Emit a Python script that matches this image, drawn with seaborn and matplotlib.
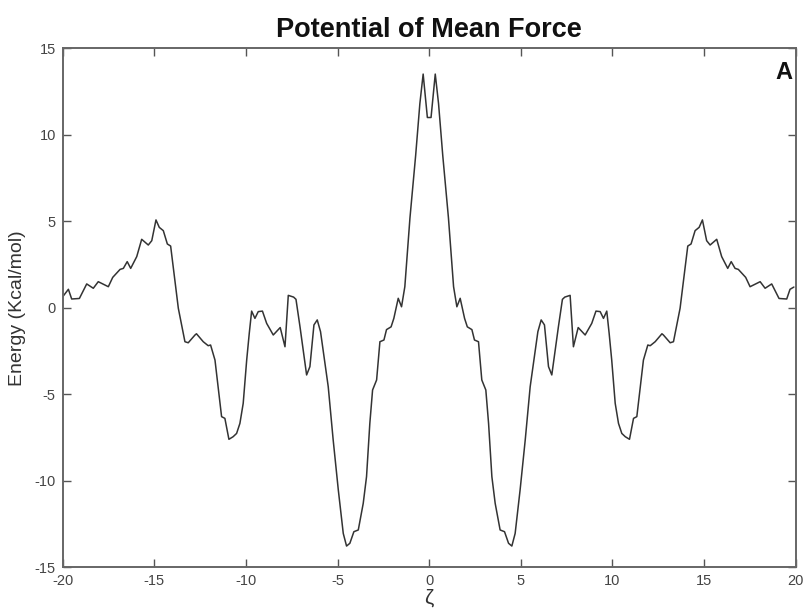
import numpy as np
import pandas as pd
import matplotlib
matplotlib.use("Agg")
import matplotlib.pyplot as plt
import seaborn as sns

# left half of the PMF profile (the curve is symmetric about zeta = 0)
zeta_left = [-20.0, -19.69, -19.51, -19.09, -18.69, -18.33, -18.06, -17.51, -17.27,
             -16.87, -16.69, -16.48, -16.29, -15.96, -15.69, -15.33, -15.14, -14.91,
             -14.73, -14.51, -14.29, -14.11, -13.97, -13.69, -13.33, -13.15, -12.78,
             -12.70, -12.33, -12.06, -11.93, -11.69, -11.33, -11.15, -10.93, -10.70,
             -10.51, -10.33, -10.15, -9.96, -9.82, -9.69, -9.51, -9.33, -9.10, -8.87,
             -8.51, -8.13, -7.87, -7.69, -7.40, -7.27, -7.05, -6.69, -6.51, -6.29,
             -6.11, -5.93, -5.51, -5.24, -4.96, -4.69, -4.51, -4.33, -4.11, -3.87,
             -3.60, -3.42, -3.24, -3.09, -2.87, -2.69, -2.47, -2.33, -2.08, -1.93,
             -1.69, -1.51, -1.33, -1.05, -0.74, -0.51, -0.33, -0.10]
energy_left = [0.64, 1.07, 0.51, 0.54, 1.38, 1.13, 1.51, 1.22, 1.76,
               2.22, 2.28, 2.67, 2.28, 2.96, 3.96, 3.63, 3.88, 5.08,
               4.65, 4.46, 3.69, 3.57, 2.38, -0.03, -1.96, -2.02, -1.57,
               -1.50, -1.96, -2.19, -2.15, -3.02, -6.29, -6.39, -7.60, -7.45,
               -7.26, -6.68, -5.52, -3.02, -1.48, -0.19, -0.61, -0.22, -0.19, -0.90,
               -1.57, -1.14, -2.25, 0.72, 0.62, 0.49, -1.10, -3.88, -3.40, -0.99,
               -0.70, -1.38, -4.56, -7.64, -10.53, -13.04, -13.77, -13.61, -12.94, -12.84,
               -11.30, -9.76, -6.68, -4.75, -4.17, -1.96, -1.86, -1.26, -1.10, -0.61,
               0.55, 0.06, 1.22, 5.20, 8.80, 11.80, 13.51, 11.00]
energy_right_end = 1.2  # right edge value differs slightly from the left edge

zeta = zeta_left + [-z for z in zeta_left[::-1]]
energy = energy_left + energy_left[::-1]
energy[-1] = energy_right_end
zeta[-1] = 19.9

df = pd.DataFrame({"zeta": zeta, "energy": energy})

sns.set_style("ticks")
plt.rcParams["font.family"] = ["Liberation Sans", "DejaVu Sans"]
plt.rcParams["axes.unicode_minus"] = False

fig = plt.figure(figsize=(8.07, 6.16), dpi=100)
ax = fig.add_axes([0.0777, 0.079, 0.9083, 0.8426])

sns.lineplot(data=df, x="zeta", y="energy", color="#333333", linewidth=1.1, ax=ax)

ax.set_xlim(-20, 20)
ax.set_ylim(-15, 15)
ax.set_xticks(range(-20, 21, 5))
ax.set_yticks(range(-15, 16, 5))
ax.tick_params(direction="in", length=6, width=1, colors="#555555",
               labelcolor="#444444", labelsize=10.5, top=True, right=True, pad=5)
for s in ax.spines.values():
    s.set_color("#666666")
    s.set_linewidth(1.4)

ax.set_xlabel("ζ", fontsize=15, color="#333333", labelpad=0)
ax.set_ylabel("Energy (Kcal/mol)", fontsize=14, color="#333333", labelpad=6)
ax.set_title("Potential of Mean Force", fontsize=19.5, fontweight="bold", pad=8,
             color="#111111")
ax.text(0.995, 0.975, "A", transform=ax.transAxes, ha="right", va="top",
        fontsize=17, fontweight="bold", color="#111111")

fig.savefig("out.png", dpi=100)
